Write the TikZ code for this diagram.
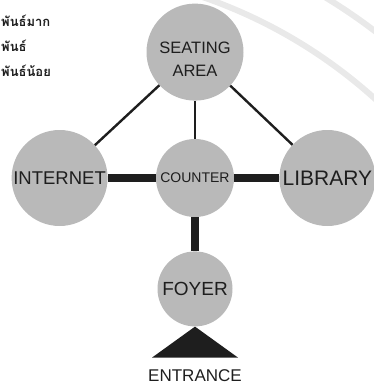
\documentclass[tikz,border=0pt]{standalone}
\usepackage{fontspec}
\setmainfont{Liberation Sans}
\newfontfamily\thaifont[Script=Thai]{Loma}
\usetikzlibrary{positioning}
\definecolor{stipple}{HTML}{B9B9B9}
\definecolor{ink}{HTML}{1E1E1E}
\definecolor{seal}{HTML}{E9E9E9}

\begin{document}
\begin{tikzpicture}[x=1pt, y=-1pt,
  room/.style={circle, fill=stipple, inner sep=0pt, align=center, text=ink},
  thinlink/.style={draw=ink, line width=2.4pt},
  thicklink/.style={draw=ink, line width=8.5pt},
  legend/.style={anchor=west, inner sep=0pt, text=ink, font=\thaifont\bfseries\fontsize{13}{15}\selectfont}]
\useasboundingbox (0,0) rectangle (374,388);
\clip (0,0) rectangle (374,388);

% faint seal in the scan
\draw[seal, line width=6pt] (40,470) circle (500pt);
\draw[seal, line width=6pt] (40,470) circle (552pt);

% legend
\node[legend] (strong) at (1,21) {พันธ์มาก};
\node[legend] (medium) at (1,46) {พันธ์};
\node[legend] (weak) at (1,71) {พันธ์น้อย};

\node[room, minimum size=78pt, font=\fontsize{14}{16}\selectfont] (counter) at (195,178) {COUNTER};
\node[room, minimum size=97pt, above=38pt of counter,
  label={[inner sep=0pt, align=center, text=ink, font=\fontsize{16.5}{23}\selectfont, yshift=-7pt]center:SEATING\\AREA}] (seating) {};
\node[room, minimum size=96pt, font=\fontsize{18.5}{20}\selectfont, left=48pt of counter] (internet) {INTERNET};
\node[room, minimum size=96pt, font=\fontsize{21}{23}\selectfont, right=45pt of counter] (library) {LIBRARY};
\node[room, minimum size=75pt, font=\fontsize{19}{21}\selectfont, below=34pt of counter] (foyer) {FOYER};

\draw[thinlink] (seating) -- (internet);
\draw[thinlink] (seating) -- (counter);
\draw[thinlink] (seating) -- (library);
\draw[thicklink] (internet) -- (counter);
\draw[thicklink] (counter) -- (library);
\draw[thicklink] (counter) -- (foyer);

\fill[ink] (foyer.south) -- ++(43,31) -- ++(-86,0) -- cycle;
\node[inner sep=0pt, text=ink, font=\fontsize{17}{19}\selectfont, below=43pt of foyer.south] (entrance) {ENTRANCE};
\end{tikzpicture}
\end{document}
